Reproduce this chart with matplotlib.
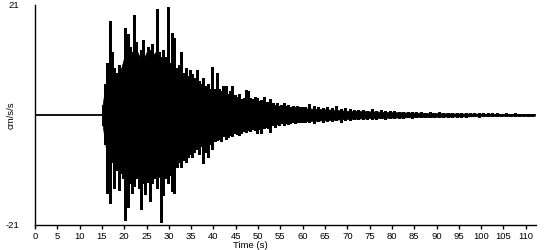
import numpy as np
import matplotlib
matplotlib.use("Agg")
import matplotlib.pyplot as plt

# record starts at 15 s, before that the trace is flat
quiet_end = 15.0

# peak amplitude per 0.5 s bin, 15 s .. 59.5 s (cm/s/s)
hi_a = [2.0, 6.0, 10.0, 18.0, 12.0, 9.0, 8.0, 9.5, 8.0, 9.0,
        16.6, 15.5, 13.0, 12.0, 19.1, 14.0, 11.0, 12.5, 14.3, 11.0,
        13.0, 12.5, 13.5, 11.5, 20.2, 12.0, 11.0, 12.4, 11.0, 20.7,
        10.0, 15.6, 14.7, 9.0, 9.5, 12.0, 8.0, 9.0, 7.5, 8.5,
        7.9, 7.0, 8.5, 6.5, 6.0, 7.0, 5.5, 6.0, 5.0, 9.2,
        5.0, 8.0, 5.0, 4.5, 5.5, 5.5, 4.0, 4.5, 5.5, 3.8,
        3.5, 4.0, 3.0, 3.3, 4.8, 4.5, 3.2, 3.0, 3.5, 3.3,
        2.6, 2.8, 3.4, 2.4, 2.5, 3.1, 2.2, 2.0, 2.3, 1.8,
        2.0, 2.2, 1.7, 1.9, 1.6, 1.8, 1.5, 1.7, 1.5, 1.6]
lo_a = [-2.0, -5.5, -14.9, -16.8, -9.0, -13.9, -10.5, -14.3, -11.0, -12.0,
        -20.0, -17.5, -13.0, -14.9, -13.5, -12.0, -14.0, -18.0, -13.0, -15.0,
        -12.7, -16.5, -13.0, -12.0, -14.0, -11.5, -20.5, -15.2, -12.0, -13.0,
        -11.5, -14.6, -14.9, -10.0, -9.0, -9.9, -8.5, -9.0, -8.0, -7.5,
        -8.0, -7.0, -6.5, -7.5, -6.0, -9.2, -7.0, -8.0, -5.5, -6.4,
        -5.0, -4.8, -4.5, -5.0, -4.0, -4.5, -4.2, -3.8, -4.0, -3.5,
        -3.6, -3.9, -3.5, -3.0, -3.3, -2.8, -3.0, -2.7, -2.8, -3.4,
        -2.6, -3.4, -2.4, -2.2, -2.5, -3.2, -2.0, -2.2, -1.8, -2.0,
        -1.6, -1.9, -1.5, -1.7, -1.5, -1.4, -1.6, -1.3, -1.4, -1.3]

# peak amplitude per 1 s bin, 60 s .. 112 s
hi_b = [1.6, 2.1, 1.8, 1.5, 1.4, 1.6, 1.3, 1.7, 1.2, 1.4,
        1.1, 1.0, 0.9, 1.0, 0.8, 1.1, 0.8, 0.9, 0.7, 0.8,
        0.7, 0.6, 0.5, 0.6, 0.5, 0.5, 0.6, 0.45, 0.5, 0.45,
        0.55, 0.4, 0.4, 0.45, 0.35, 0.4, 0.3, 0.35, 0.3, 0.35,
        0.3, 0.3, 0.35, 0.3, 0.25, 0.3, 0.25, 0.3, 0.25, 0.2,
        0.25, 0.2, 0.2]
lo_b = [-1.4, -1.3, -1.5, -1.2, -1.3, -1.1, -1.2, -1.0, -1.3, -1.0,
        -0.9, -0.8, -0.8, -0.7, -0.8, -0.7, -0.7, -0.6, -0.7, -0.6,
        -0.6, -0.5, -0.5, -0.4, -0.5, -0.4, -0.4, -0.4, -0.35, -0.4,
        -0.35, -0.35, -0.3, -0.35, -0.3, -0.3, -0.3, -0.25, -0.25, -0.3,
        -0.25, -0.2, -0.25, -0.2, -0.2, -0.2, -0.2, -0.2, -0.2, -0.2,
        -0.2, -0.15, -0.15]

# edge of the dense (solid black) part of the trace
core_t = [15, 16, 17, 18, 19, 20, 21, 22, 23, 24, 25, 26, 27, 28, 29, 30,
          31, 32, 33, 34, 35, 36, 37, 38, 39, 40, 41, 42, 43, 44, 45, 46,
          47, 48, 49, 50, 51, 52, 53, 54, 55, 56, 57, 58, 59, 60,
          65, 70, 75, 80, 85, 90, 95, 100, 105, 112]
core_hi = [1.0, 7.0, 9.0, 7.0, 8.0, 11.0, 12.0, 11.0, 12.0, 10.0, 12.0, 11.0,
           12.0, 10.0, 11.0, 9.0, 8.0, 8.0, 7.0, 6.5, 6.5, 5.5, 5.0, 5.0, 4.5,
           4.2, 4.0, 3.8, 3.4, 3.5, 3.0, 2.8, 3.0, 2.6, 2.7, 2.3, 2.4, 2.2, 1.9,
           1.8, 1.7, 1.5, 1.4, 1.4, 1.3, 1.3,
           1.1, 0.8, 0.7, 0.55, 0.45, 0.35, 0.3, 0.25, 0.22, 0.2]
core_lo = [-1.0, -7.0, -8.0, -8.0, -9.0, -10.0, -11.0, -10.0, -11.0, -12.0, -10.0, -12.0,
           -11.0, -12.0, -10.0, -10.0, -9.0, -8.0, -7.5, -7.0, -6.0, -6.0, -6.0, -5.0, -4.8,
           -4.2, -3.8, -3.6, -3.4, -3.2, -3.0, -2.9, -2.7, -2.6, -2.5, -2.4, -2.2, -2.2, -1.9,
           -1.8, -1.6, -1.5, -1.4, -1.3, -1.2, -1.2,
           -1.0, -0.75, -0.6, -0.5, -0.4, -0.33, -0.27, -0.22, -0.2, -0.18]

t = np.concatenate([quiet_end + 0.25 + 0.5 * np.arange(len(hi_a)),
                    60.5 + np.arange(len(hi_b))])
hi = np.array(hi_a + hi_b)
lo = np.array(lo_a + lo_b)

plt.rcParams['font.family'] = ['Liberation Sans', 'DejaVu Sans']
fs = 6.8

fig = plt.figure(figsize=(5.5, 2.5), dpi=100)
ax = fig.add_axes([35 / 550, 25 / 250, 501 / 550, 220 / 250])

# flat part and baseline
ax.plot([0, 112], [0, 0], color="black", lw=1.3)
ax.fill_between(core_t, core_lo, core_hi, color="black", lw=0.5, edgecolor="black")
ax.vlines(t, lo, hi, color="black", lw=0.8, antialiased=False)

ax.set_xlim(0, 112.3)
ax.set_ylim(-21, 21)
ax.set_xticks(np.arange(0, 111, 5))
ax.set_yticks([-21, 21])
ax.set_yticklabels(["-21", "21"])
ax.tick_params(axis="x", direction="out", length=3, width=1, pad=2, labelsize=fs)
ax.tick_params(axis="y", length=0, pad=11.5, labelsize=fs)

for s in ["top", "right"]:
    ax.spines[s].set_visible(False)
for s in ["left", "bottom"]:
    ax.spines[s].set_linewidth(1)

ax.set_xlabel("Time (s)", fontsize=fs, va="center")
ax.xaxis.set_label_coords((250 - 35) / 501, -20 / 220)
ax.set_ylabel("cm/s/s", fontsize=fs)
ax.yaxis.set_label_coords(-19 / 501, 0.5)

fig.savefig("out.png", dpi=100)
